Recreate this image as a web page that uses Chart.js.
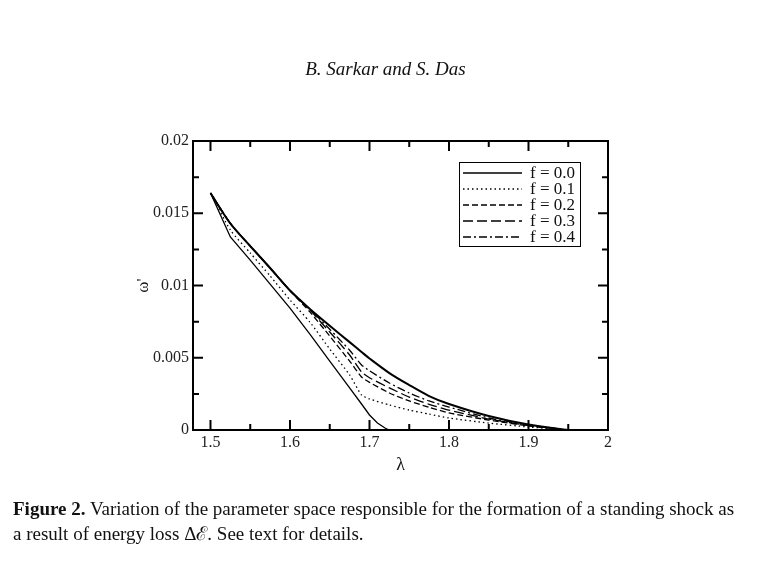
<!DOCTYPE html>
<html>
<head>
<meta charset="utf-8">
<script src="https://cdn.jsdelivr.net/npm/chart.js@4.4.1/dist/chart.umd.min.js"></script>
<style>
  html, body { margin: 0; padding: 0; background: #fff; }
  #wrap { position: relative; width: 757px; height: 563px; overflow: hidden; }
  #plot { position: absolute; left: 0; top: 0; }
  .txt { position: absolute; font-family: 'Liberation Serif', 'Times New Roman', serif; color: #111; white-space: nowrap; }
  #header { left: 7px; width: 757px; top: 57px; text-align: center; font-style: italic; font-size: 19px; line-height: 24px; }
  #caption { left: 13px; top: 496px; font-size: 19px; line-height: 25px; }
</style>
</head>
<body>
<div id="wrap">
  <canvas id="plot" width="757" height="563"></canvas>
  <div id="header" class="txt">B. Sarkar and S. Das</div>
  <div id="caption" class="txt"><b>Figure 2.</b> Variation of the parameter space responsible for the formation of a standing shock as<br>a result of energy loss &Delta;&#8496;. See text for details.</div>
</div>
<script>
// lambda grid (x) and omega' values, null = not read there
const lambdaValues = [1.5, 1.525, 1.55, 1.575, 1.6, 1.625, 1.65, 1.675, 1.69, 1.7, 1.71, 1.72, 1.725, 1.75, 1.775, 1.8, 1.85, 1.9, 1.95];

// shared upper boundary (all f overlap here)
const upperBoundary = [0.0164, 0.01429, 0.01273, 0.01121, 0.00965, 0.00838, 0.00722, 0.00608, 0.0054, 0.00495, null, null, 0.00394, 0.00311, 0.00235, 0.0018, 0.00097, 0.00038, 0];

// lower boundaries per f
const lowerF00 = [0.0164, 0.01336, 0.01176, 0.0101, 0.00844, 0.00664, 0.00477, 0.00291, 0.0018, 0.00104, 0.00048, 0.00012, 0, null, null, null, null, null, null];
const lowerF01 = [0.0164, 0.01384, 0.01225, 0.01066, 0.009, 0.00747, 0.0056, 0.00381, 0.00242, 0.00215, null, null, 0.00173, 0.00138, 0.0011, 0.00083, 0.00048, 0.00021, 0];
const lowerF02 = [0.0164, 0.01429, 0.01273, 0.01121, 0.00965, 0.00817, 0.0065, 0.00477, 0.00367, 0.0033, null, null, 0.00256, 0.00201, 0.00157, 0.00118, 0.00069, 0.00028, 0];
const lowerF03 = [0.0164, 0.01429, 0.01273, 0.01121, 0.00965, 0.0083, 0.00678, 0.00519, 0.00401, 0.00362, null, null, 0.00291, 0.00228, 0.00178, 0.00138, 0.00076, 0.00031, 0];
const lowerF04 = [0.0164, 0.01429, 0.01273, 0.01121, 0.00965, 0.00835, 0.00697, 0.00552, 0.0045, 0.0041, null, null, 0.00325, 0.00256, 0.00201, 0.00159, 0.00083, 0.00035, 0];

const fLabels = ['f = 0.0', 'f = 0.1', 'f = 0.2', 'f = 0.3', 'f = 0.4'];

// axis ticks
const xTickValues = [1.5, 1.6, 1.7, 1.8, 1.9, 2.0];
const xTickLabels = ['1.5', '1.6', '1.7', '1.8', '1.9', '2'];
const xMinorTicks = [1.55, 1.65, 1.75, 1.85, 1.95];
const yTickValues = [0, 0.005, 0.01, 0.015, 0.02];
const yTickLabels = ['0', '0.005', '0.01', '0.015', '0.02'];
const yMinorTicks = [0.0025, 0.0075, 0.0125, 0.0175];

const serif = "'Liberation Serif', 'Times New Roman', serif";

function toPoints(values) {
    return lambdaValues.map((x, i) => ({ x: x, y: values[i] }));
}

function lineSet(label, values, dash, width, tension, inLegend) {
    return {
        label: label,
        data: toPoints(values),
        borderColor: '#000',
        borderWidth: width,
        borderDash: dash,
        pointRadius: 0,
        fill: false,
        tension: tension,
        spanGaps: true,
        inLegend: inLegend
    };
}

// inward ticks on all four sides + the box
const frameTicks = {
    id: 'frameTicks',
    afterDatasetsDraw(chart) {
        const { ctx, chartArea: a, scales: { x, y } } = chart;
        ctx.save();
        ctx.strokeStyle = '#000';
        ctx.lineWidth = 2;
        ctx.beginPath();
        const xTick = (v, len) => {
            const px = x.getPixelForValue(v);
            ctx.moveTo(px, a.bottom); ctx.lineTo(px, a.bottom - len);
            ctx.moveTo(px, a.top); ctx.lineTo(px, a.top + len);
        };
        const yTick = (v, len) => {
            const py = y.getPixelForValue(v);
            ctx.moveTo(a.left, py); ctx.lineTo(a.left + len, py);
            ctx.moveTo(a.right, py); ctx.lineTo(a.right - len, py);
        };
        xTickValues.forEach(v => xTick(v, 10));
        xMinorTicks.forEach(v => xTick(v, 6));
        yTickValues.forEach(v => yTick(v, 10));
        yMinorTicks.forEach(v => yTick(v, 6));
        ctx.stroke();
        ctx.strokeRect(a.left, a.top, a.right - a.left, a.bottom - a.top);
        ctx.restore();
    }
};

// legend box inside the plot, top right
const boxLegend = {
    id: 'boxLegend',
    afterDraw(chart) {
        const { ctx, chartArea: a } = chart;
        const items = chart.data.datasets.filter(d => d.inLegend);
        const w = 121, rowH = 16;
        const left = a.right - 28 - w, top = a.top + 21;
        const h = items.length * rowH + 4;
        ctx.save();
        ctx.fillStyle = '#fff';
        ctx.fillRect(left, top, w, h);
        ctx.strokeStyle = '#000';
        ctx.lineWidth = 1;
        ctx.strokeRect(left + 0.5, top + 0.5, w, h);
        ctx.font = '17px ' + serif;
        ctx.textBaseline = 'middle';
        items.forEach((d, i) => {
            const cy = top + 11 + i * rowH;
            ctx.beginPath();
            ctx.setLineDash(d.borderDash || []);
            ctx.lineWidth = 1.6;
            ctx.moveTo(left + 4, cy);
            ctx.lineTo(left + 63, cy);
            ctx.stroke();
            ctx.setLineDash([]);
            ctx.fillStyle = '#111';
            ctx.fillText(d.label, left + 71, cy + 1);
        });
        ctx.restore();
    }
};

const ctx = document.getElementById('plot').getContext('2d');

const chart = new Chart(ctx, {
    type: 'line',
    data: {
        datasets: [
            lineSet('upper', upperBoundary, [], 2, 0.3, false),
            lineSet(fLabels[0], lowerF00, [], 1.3, 0, true),
            lineSet(fLabels[1], lowerF01, [1.5, 3], 1.3, 0.2, true),
            lineSet(fLabels[2], lowerF02, [6, 3], 1.3, 0.2, true),
            lineSet(fLabels[3], lowerF03, [10, 4], 1.3, 0.2, true),
            lineSet(fLabels[4], lowerF04, [8, 3, 2, 3], 1.3, 0.2, true)
        ]
    },
    options: {
        responsive: false,
        animation: false,
        devicePixelRatio: 1,
        layout: {
            padding: { left: 129, right: 149, top: 141, bottom: 83 }
        },
        scales: {
            x: {
                type: 'linear',
                min: 1.478,
                max: 2.0,
                afterBuildTicks: s => { s.ticks = xTickValues.map(v => ({ value: v })); },
                afterFit: s => { s.height = 50; },
                grid: { display: false, drawTicks: false },
                border: { display: false },
                ticks: {
                    padding: 3,
                    maxRotation: 0,
                    color: '#222',
                    font: { family: serif, size: 16 },
                    callback: v => xTickLabels[xTickValues.indexOf(v)]
                },
                title: {
                    display: true,
                    text: '\u03bb',
                    color: '#111',
                    font: { family: serif, size: 18 }
                }
            },
            y: {
                type: 'linear',
                min: 0,
                max: 0.02,
                afterBuildTicks: s => { s.ticks = yTickValues.map(v => ({ value: v })); },
                afterFit: s => { s.width = 64; },
                grid: { display: false, drawTicks: false },
                border: { display: false },
                ticks: {
                    padding: 4,
                    color: '#222',
                    font: { family: serif, size: 16 },
                    callback: v => yTickLabels[yTickValues.indexOf(v)]
                },
                title: {
                    display: true,
                    text: "\u03c9'",
                    color: '#111',
                    font: { family: serif, size: 17 }
                }
            }
        },
        plugins: {
            legend: { display: false },
            tooltip: { enabled: false }
        }
    },
    plugins: [frameTicks, boxLegend]
});
</script>
</body>
</html>
